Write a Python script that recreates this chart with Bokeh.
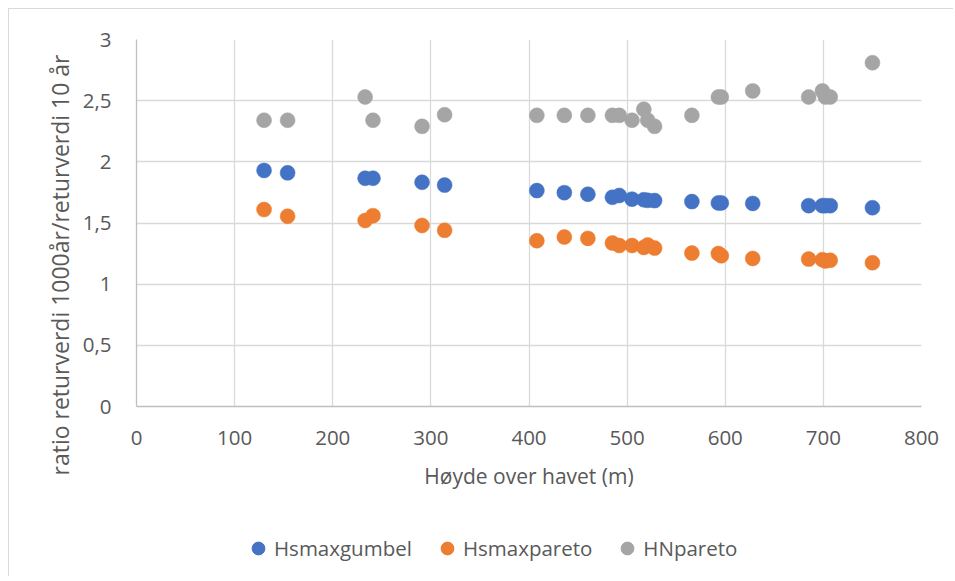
from bokeh.plotting import figure
from bokeh.layouts import column
from bokeh.models import (Range1d, Legend, LegendItem, CustomJSTickFormatter, FixedTicker,
                          ColumnDataSource, Title)
from bokeh.embed import file_html
from bokeh.resources import INLINE

# Data
hoyde = [130, 154, 233, 241, 291, 314, 408, 436, 460, 485, 492, 505,
         517, 521, 528, 566, 593, 596, 628, 685, 699, 702, 707, 750]
hsmaxgumbel = [1.93, 1.91, 1.866, 1.866, 1.833, 1.81, 1.765, 1.748, 1.735, 1.71, 1.725, 1.695,
               1.69, 1.685, 1.683, 1.675, 1.664, 1.664, 1.66, 1.642, 1.642, 1.642, 1.642, 1.625]
hsmaxpareto = [1.61, 1.555, 1.52, 1.56, 1.48, 1.44, 1.355, 1.385, 1.374, 1.336, 1.316, 1.316,
               1.30, 1.32, 1.295, 1.254, 1.25, 1.232, 1.21, 1.205, 1.20, 1.19, 1.195, 1.175]
hnpareto = [2.34, 2.34, 2.53, 2.34, 2.29, 2.385, 2.38, 2.38, 2.38, 2.38, 2.38, 2.34,
            2.43, 2.34, 2.29, 2.38, 2.53, 2.53, 2.58, 2.53, 2.58, 2.53, 2.53, 2.81]

series_names = ["Hsmaxgumbel", "Hsmaxpareto", "HNpareto"]
series_values = [hsmaxgumbel, hsmaxpareto, hnpareto]
series_colors = ["#4472C4", "#ED7D31", "#A5A5A5"]

x_ticks = [0, 100, 200, 300, 400, 500, 600, 700, 800]
y_ticks = [0, 0.5, 1, 1.5, 2, 2.5, 3]
x_title = "Høyde over havet (m)"
y_title = "ratio returverdi 1000år/returverdi 10 år"

FONT = "Open Sans"
TXT = "#595959"

p = figure(width=944, height=497, output_backend="svg", toolbar_location=None,
           x_range=Range1d(0, 800), y_range=Range1d(0, 3),
           min_border_left=127, min_border_right=32, min_border_top=30, min_border_bottom=100,
           background_fill_color="white", border_fill_color="white")
p.outline_line_color = None

sources = []
for name, vals, col in zip(series_names, series_values, series_colors):
    src = ColumnDataSource(dict(x=hoyde, y=vals))
    sources.append(src)
    p.scatter("x", "y", source=src, size=15, fill_color=col, line_color=col, line_width=0.5)

p.xaxis.ticker = FixedTicker(ticks=x_ticks)
p.yaxis.ticker = FixedTicker(ticks=y_ticks)
p.yaxis.formatter = CustomJSTickFormatter(code="return tick.toString().replace('.', ',');")

for ax in (p.xaxis, p.yaxis):
    ax.axis_line_color = "#BFBFBF"
    ax.axis_line_width = 1.3
    ax.major_tick_line_color = None
    ax.minor_tick_line_color = None
    ax.major_label_text_font = FONT
    ax.major_label_text_font_size = "20.5px"
    ax.major_label_text_color = TXT
    ax.axis_label_text_font = FONT
    ax.axis_label_text_color = TXT
    ax.axis_label_text_font_style = "normal"

p.xaxis.axis_label = x_title
p.xaxis.axis_label_text_font_size = "21px"
p.xaxis.major_label_standoff = 18
p.xaxis.axis_label_standoff = 14
p.yaxis.major_label_standoff = 19

ytitle = Title(text=y_title, align="left", offset=-69, standoff=6, vertical_align="middle",
               text_font=FONT, text_font_size="23px", text_font_style="normal", text_color=TXT)
p.add_layout(ytitle, "left")

p.xgrid.ticker = FixedTicker(ticks=x_ticks)
p.ygrid.ticker = FixedTicker(ticks=y_ticks)
p.grid.grid_line_color = "#D9D9D9"
p.grid.grid_line_width = 1.3

# Legend strip below the chart (its renderers use the series data, which lies outside this strip's ranges)
leg = figure(width=944, height=70, output_backend="svg", toolbar_location=None,
             x_range=Range1d(0, 1), y_range=Range1d(0, 1),
             x_axis_type=None, y_axis_type=None,
             min_border_left=0, min_border_right=0, min_border_top=0, min_border_bottom=0,
             background_fill_color="white", border_fill_color="white")
leg.outline_line_color = None
leg.grid.visible = False
items = []
for name, src, col in zip(series_names, sources, series_colors):
    r = leg.scatter("x", "y", source=src, size=15, fill_color=col, line_color=col)
    items.append(LegendItem(label=name, renderers=[r]))
legend = Legend(items=items, orientation="horizontal", location=(106, 12),
                glyph_width=32, glyph_height=32, label_standoff=0, spacing=19,
                padding=0, margin=0, border_line_color=None, background_fill_alpha=0,
                label_text_font=FONT, label_text_font_size="20.5px", label_text_color=TXT)
leg.add_layout(legend, "center")

layout = column(p, leg, spacing=0)
layout.styles = {"margin-left": "8px", "margin-top": "8px",
                 "border-left": "1px solid #D9D9D9", "border-top": "1px solid #D9D9D9"}

open("out.html", "w").write(file_html(layout, INLINE))
